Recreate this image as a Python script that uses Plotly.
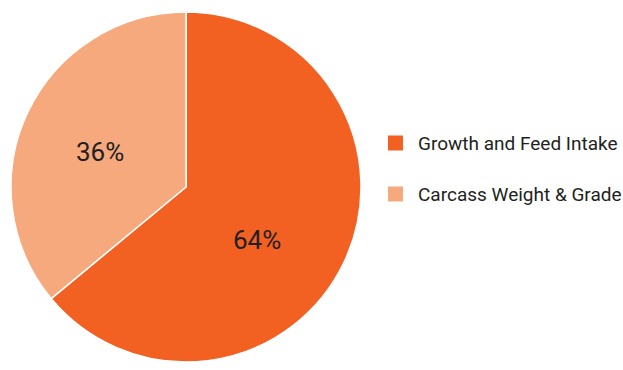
import plotly.graph_objects as go

categories = ["Growth and Feed Intake", "Carcass Weight & Grade"]
shares = [64, 36]
colors = ["#F26122", "#F6A97D"]

# label centres (px, from top-left) for the percentage text of each slice
label_pos = [(257, 240), (100, 152)]

FONT = "Roboto"
TEXT_COLOR = "#231F20"
W, H = 623, 370

fig = go.Figure()
fig.add_trace(go.Pie(
    labels=categories,
    values=shares,
    sort=False,
    direction="clockwise",
    rotation=0,
    marker=dict(colors=colors, line=dict(color="white", width=1.5)),
    textinfo="none",
    hoverinfo="label+percent",
    showlegend=False,
    domain=dict(x=[11 / W, 361 / W], y=[8 / H, 358 / H]),
))

# percentage labels inside the slices
for v, (px, py) in zip(shares, label_pos):
    fig.add_annotation(
        text=f"{v}%", xref="paper", yref="paper",
        x=px / W, y=1 - py / H, xanchor="center", yanchor="middle",
        showarrow=False,
        font=dict(family=FONT, size=26, color=TEXT_COLOR),
    )

# legend drawn as swatches and labels
legend_top = 143
legend_step = 51
for i, (name, col) in enumerate(zip(categories, colors)):
    yc = legend_top + i * legend_step
    fig.add_shape(
        type="rect", xref="paper", yref="paper",
        x0=388 / W, x1=403 / W,
        y0=1 - (yc + 7.5) / H, y1=1 - (yc - 7.5) / H,
        fillcolor=col, line=dict(width=0),
    )
    fig.add_annotation(
        text=name, xref="paper", yref="paper",
        x=416 / W, y=1 - yc / H,
        xanchor="left", yanchor="middle", showarrow=False,
        font=dict(family=FONT, size=19, color=TEXT_COLOR),
    )

fig.update_layout(
    width=W, height=H,
    margin=dict(l=0, r=0, t=0, b=0),
    paper_bgcolor="white", plot_bgcolor="white",
)

fig.write_html("out.html")
